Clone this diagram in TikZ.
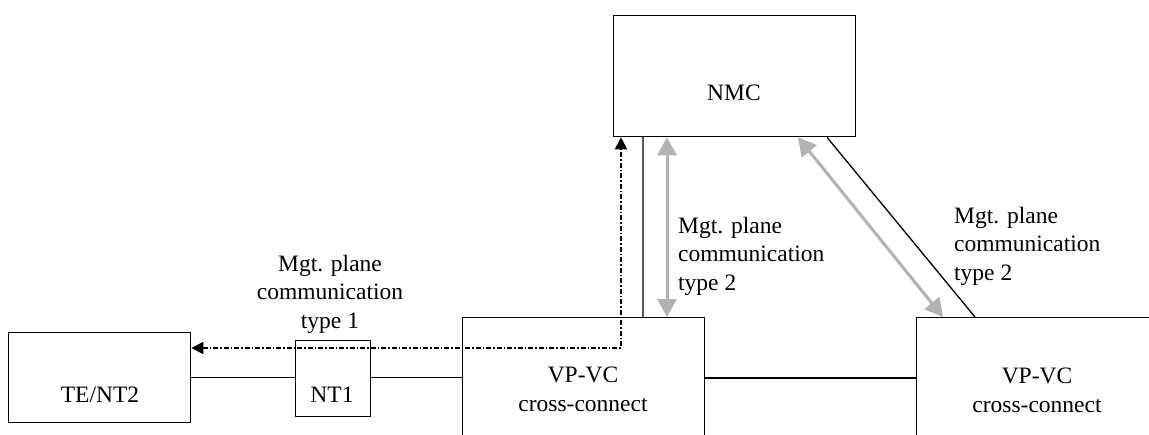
\documentclass[tikz,border=0pt]{standalone}
\usepackage{fontspec}
\setmainfont{Liberation Serif}
\usetikzlibrary{arrows.meta}
\begin{document}
\begin{tikzpicture}[x=1pt,y=-1pt,
  box/.style={draw=black,line width=1.3pt,rectangle,inner sep=0pt,anchor=north west},
  txt/.style={font=\fontsize{23.5}{28.5}\selectfont,inner sep=0pt},
  conn/.style={draw=black,line width=1.3pt},
  darkconn/.style={draw=black!65,line width=1.6pt},
  grayarrow/.style={draw=black!30,line width=3pt,{Triangle[length=18pt,width=19pt]}-{Triangle[length=18pt,width=19pt]}},
  dasharrow/.style={draw=black,line width=1.9pt,dash pattern=on 5pt off 2pt on 1.5pt off 2pt,{Triangle[length=12pt,width=12pt]}-{Triangle[length=12pt,width=12pt]}}
]
\clip (0,0) rectangle (1149,434);
\fill[white] (0,0) rectangle (1149,434);
% boxes
\node[box,minimum width=242pt,minimum height=121pt] (nmc) at (613,15) {};
\node[box,minimum width=182pt,minimum height=90pt] (te) at (8,332) {};
\node[box,minimum width=75pt,minimum height=76pt] (nt1) at (295,340) {};
\node[box,minimum width=242pt,minimum height=183pt] (vp1) at (462,317) {};
\node[box,minimum width=242pt,minimum height=183pt] (vp2) at (916,317) {};
% texts
\node[txt,anchor=base] (tnmc) at (734,100) {NMC};
\node[txt,anchor=base] (tte) at (100,402) {TE/NT2};
\node[txt,anchor=base] (tnt1) at (332,402) {NT1};
\node[txt,anchor=base,align=center] (tvp1) at (583,411) {VP-VC\\cross-connect};
\node[txt,anchor=base,align=center] (tvp2) at (1037,412) {VP-VC\\cross-connect};
\node[txt,anchor=base,align=center] (lab1) at (330,328) {Mgt. plane\\communication\\type 1};
\node[txt,anchor=base west,align=left] (lab2) at (678,290) {Mgt. plane\\communication\\type 2};
\node[txt,anchor=base west,align=left] (lab3) at (954,280) {Mgt. plane\\communication\\type 2};
% connectors
\draw[conn] (te.east) -- (te.east -| nt1.west);
\draw[conn] (nt1.east |- te.east) -- (vp1.west |- te.east);
\draw[conn] ([yshift=-61pt]vp1.north east) -- ([yshift=-61pt]vp2.north west);
\draw[darkconn] ([xshift=30pt]nmc.south west) -- ([xshift=181pt]vp1.north west);
\draw[grayarrow] ([xshift=54pt]nmc.south west) -- ([xshift=205pt]vp1.north west);
\draw[grayarrow] ([xshift=185pt]nmc.south west) -- ([xshift=27pt]vp2.north west);
\draw[conn] ([xshift=214pt]nmc.south west) -- ([xshift=59pt]vp2.north west);
\draw[dasharrow] ([yshift=-16pt]te.north east) -| ([xshift=8pt]nmc.south west);
\end{tikzpicture}
\end{document}
